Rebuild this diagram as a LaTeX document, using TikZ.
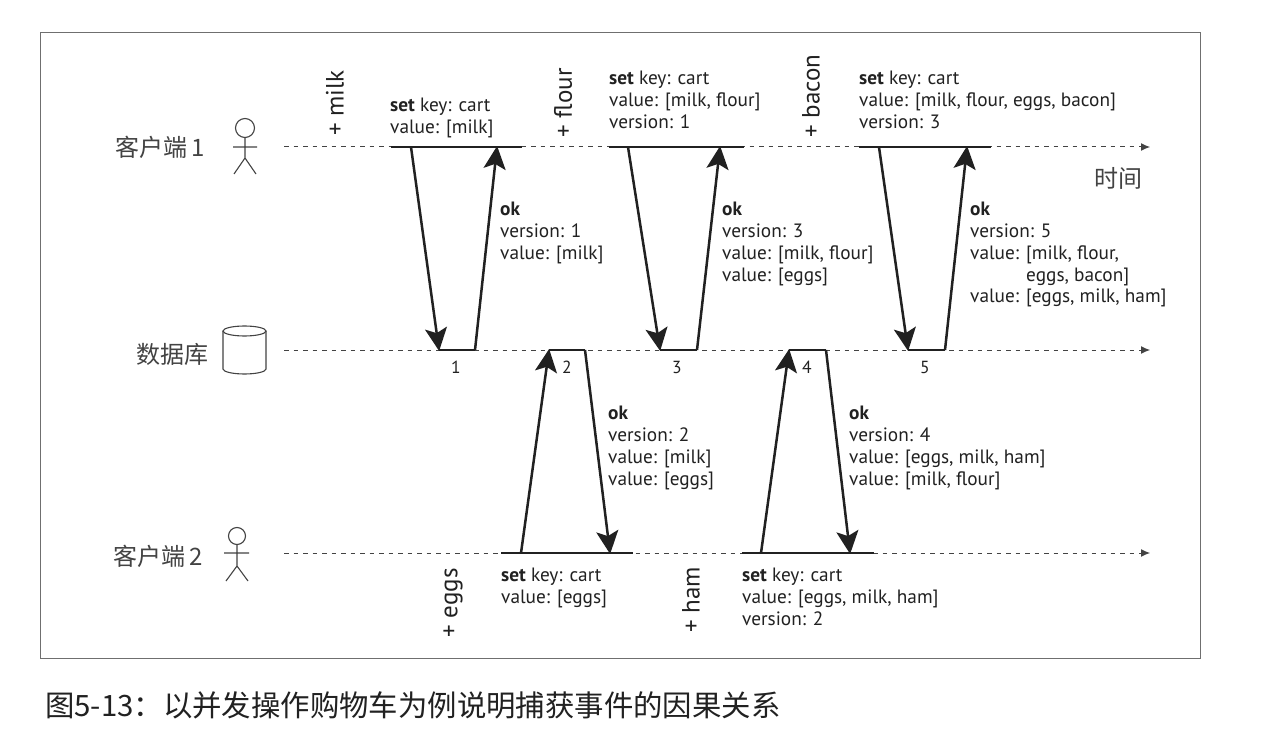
\documentclass[tikz,border=0pt]{standalone}
\usepackage{fontspec}
\setmainfont{PT Sans}
\newfontfamily\cjk{Noto Sans CJK SC}[BoldFont={Noto Sans CJK SC}]
\usetikzlibrary{arrows.meta,shapes.geometric}
\definecolor{ink}{gray}{0.13}
\tikzset{
  x=1pt,y=-1pt,
  lbl/.style={inner sep=0pt,anchor=north west,align=left,text=ink,font=\fontsize{19.3}{21.8}\selectfont},
  item/.style={inner sep=0pt,rotate=90,text=ink,font=\fontsize{25}{28}\selectfont},
  who/.style={inner sep=0pt,text=ink!85!white,font=\cjk\fontsize{24}{28}\selectfont},
  num/.style={inner sep=0pt,text=ink,font=\fontsize{17.5}{20}\selectfont},
  timeline/.style={dash pattern=on 4.5pt off 5pt,line width=1pt,ink!85!white,-{Latex[length=9pt,width=8pt]}},
  span/.style={line width=2.6pt,ink},
  msg/.style={line width=2.5pt,ink,-{Stealth[length=23pt,width=22pt,inset=5pt]},shorten >=-1pt},
  figure/.style={line width=1.1pt,ink!85!white},
}
\begin{document}
\begin{tikzpicture}
\useasboundingbox (0,0) rectangle (1280,746);
\fill[white] (0,0) rectangle (1280,746);
\draw[line width=1pt,ink!65!white] (40,33) rectangle (1200,658);
% timelines
\coordinate (c1s) at (284,147); \coordinate (c1e) at (1150,147);
\coordinate (dbs) at (284,350); \coordinate (dbe) at (1150,350);
\coordinate (c2s) at (284,553); \coordinate (c2e) at (1150,553);
\draw[timeline] (c1s) -- (c1e);
\draw[timeline] (dbs) -- (dbe);
\draw[timeline] (c2s) -- (c2e);
% spans and anchors
\foreach \n/\xa/\xb/\yy in {a/391/522/147,b/609/744/147,c/859/991/147,d/439/475/350,e/660/697/350,f/908/945/350,g/549/585/350,h/789/826/350,i/501/633/553,j/742/874/553}{
  \fill[white] (\xa,\yy-3) rectangle (\xb,\yy+3);
  \draw[span] (\xa,\yy) -- (\xb,\yy);
}
\coordinate (a1) at (411,147); \coordinate (a2) at (497,147);
\coordinate (b1) at (628,147); \coordinate (b2) at (720,147);
\coordinate (c1) at (879,147); \coordinate (c2) at (967,147);
\coordinate (d1) at (439,350); \coordinate (d2) at (475,350);
\coordinate (e1) at (660,350); \coordinate (e2) at (697,350);
\coordinate (f1) at (908,350); \coordinate (f2) at (945,350);
\coordinate (g1) at (549,350); \coordinate (g2) at (585,350);
\coordinate (h1) at (789,350); \coordinate (h2) at (826,350);
\coordinate (i1) at (521,553); \coordinate (i2) at (610,553);
\coordinate (j1) at (761,553); \coordinate (j2) at (850,553);
\draw[msg] (a1) -- (d1);
\draw[msg] (d2) -- (a2);
\draw[msg] (b1) -- (e1);
\draw[msg] (e2) -- (b2);
\draw[msg] (c1) -- (f1);
\draw[msg] (f2) -- (c2);
\draw[msg] (i1) -- (g1);
\draw[msg] (g2) -- (i2);
\draw[msg] (j1) -- (h1);
\draw[msg] (h2) -- (j2);
% actors
\node[who] (n1) at (160,147) {客户端\,1};
\node[who] (n2) at (172,354) {数据库};
\node[who] (n3) at (158,556) {客户端\,2};
\node[who] (tm) at (1118,178) {时间};
% stick figures
\draw[figure] (245,128) circle (9.5);
\draw[figure] (245,137.5) -- (245,158) (233,147) -- (257,147) (234,174) -- (245,158) -- (256,174);
\draw[figure] (237,536) circle (8.5);
\draw[figure] (237,544.5) -- (237,566) (224,553) -- (249,553) (226,581) -- (237,566) -- (248,581);
% database cylinder
\draw[figure] (223,331) -- (223,369) arc[start angle=180,end angle=360,x radius=21.5,y radius=-5] -- (266,331);
\draw[figure] (244.5,331) ellipse (21.5 and 5);
% items
\node[item] (m) at (335,103) {+ milk};
\node[item] (fl) at (563,103) {+ flour};
\node[item] (bc) at (811,96) {+ bacon};
\node[item] (eg) at (453,603) {+ eggs};
\node[item] (hm) at (691,600) {+ ham};
% labels
\node[lbl] at (390,98) {\textbf{set} key: cart\\value: [milk]};
\node[lbl] at (609,71) {\textbf{set} key: cart\\value: [milk, flour]\\version: 1};
\node[lbl] at (859,71) {\textbf{set} key: cart\\value: [milk, flour, eggs, bacon]\\version: 3};
\node[lbl] at (500,202) {\textbf{ok}\\version: 1\\value: [milk]};
\node[lbl] at (722,202) {\textbf{ok}\\version: 3\\value: [milk, flour]\\value: [eggs]};
\node[lbl] at (970,202) {\textbf{ok}\\version: 5\\value: [milk, flour,\\\hspace*{56pt}eggs, bacon]\\value: [eggs, milk, ham]};
\node[lbl] at (608,406) {\textbf{ok}\\version: 2\\value: [milk]\\value: [eggs]};
\node[lbl] at (849,406) {\textbf{ok}\\version: 4\\value: [eggs, milk, ham]\\value: [milk, flour]};
\node[lbl] at (501,568) {\textbf{set} key: cart\\value: [eggs]};
\node[lbl] at (742,568) {\textbf{set} key: cart\\value: [eggs, milk, ham]\\version: 2};
% numbers
\node[num] (k1) at (456,367) {1};
\node[num] (k2) at (567,367) {2};
\node[num] (k3) at (677,367) {3};
\node[num] (k4) at (807,367) {4};
\node[num] (k5) at (925,367) {5};
% caption
\node[inner sep=0pt,anchor=west,text=ink,font=\cjk\fontsize{29.4}{32}\selectfont] (cap) at (45,705) {图5-13：以并发操作购物车为例说明捕获事件的因果关系};
\end{tikzpicture}
\end{document}
